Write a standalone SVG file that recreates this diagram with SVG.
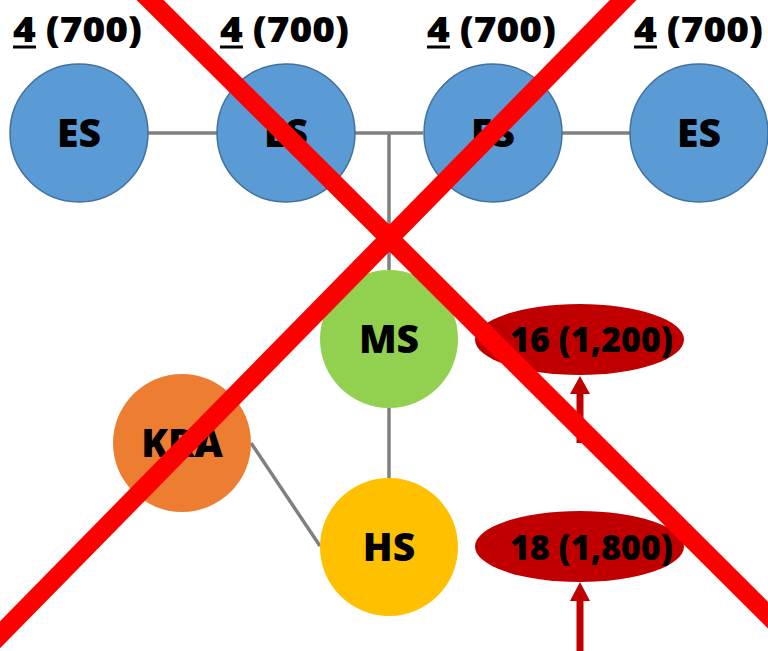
<svg xmlns="http://www.w3.org/2000/svg" width="768" height="651" viewBox="0 0 768 651">
<style>
.lbl{font-family:"Open Sans","Liberation Sans",sans-serif;font-weight:800;font-size:36px;fill:#000}
.nt{font-family:"Open Sans","Liberation Sans",sans-serif;font-weight:800;font-size:39px;fill:#000;text-anchor:middle}
.es{fill:#5B9BD5;stroke:#41719C;stroke-width:1.5}
.conn{stroke:#808080;stroke-width:3.5;fill:none}
.ul{stroke:#000;stroke-width:3}
.arr{stroke:#C00000;stroke-width:7}
.ah{fill:#C00000}
</style>
<rect width="768" height="651" fill="#fff"/>
<g id="connectors">
<line class="conn" x1="148" y1="133" x2="217" y2="133"/>
<line class="conn" x1="355" y1="133" x2="423" y2="133"/>
<line class="conn" x1="562" y1="133" x2="631" y2="133"/>
<line class="conn" x1="389" y1="133" x2="389" y2="270"/>
<line class="conn" x1="389" y1="408" x2="389" y2="478"/>
<line class="conn" x1="251" y1="443" x2="320" y2="546"/>
</g>
<g id="labels">
<text class="lbl" x="13" y="42" textLength="129" lengthAdjust="spacingAndGlyphs">4 (700)</text>
<line class="ul" x1="13" y1="47" x2="36" y2="47"/>
<text class="lbl" x="220" y="42" textLength="129" lengthAdjust="spacingAndGlyphs">4 (700)</text>
<line class="ul" x1="220" y1="47" x2="243" y2="47"/>
<text class="lbl" x="427" y="42" textLength="129" lengthAdjust="spacingAndGlyphs">4 (700)</text>
<line class="ul" x1="427" y1="47" x2="450" y2="47"/>
<text class="lbl" x="634" y="42" textLength="129" lengthAdjust="spacingAndGlyphs">4 (700)</text>
<line class="ul" x1="634" y1="47" x2="657" y2="47"/>
</g>
<g id="es1"><circle class="es" cx="79" cy="133" r="69"/><text class="nt" x="79" y="147">ES</text></g>
<g id="es2"><circle class="es" cx="286" cy="133" r="69"/><text class="nt" x="286" y="147">ES</text></g>
<g id="es3"><circle class="es" cx="493" cy="133" r="69"/><text class="nt" x="493" y="147">ES</text></g>
<g id="es4"><circle class="es" cx="699" cy="133" r="69"/><text class="nt" x="699" y="147">ES</text></g>
<g id="ms"><circle cx="389" cy="339" r="69" fill="#92D050"/><text class="nt" x="389" y="353">MS</text></g>
<g id="kra"><circle cx="182" cy="443" r="69" fill="#ED7D31"/><text class="nt" x="182" y="457">KRA</text></g>
<g id="hs"><circle cx="389" cy="547" r="69" fill="#FFC000"/><text class="nt" x="389" y="561">HS</text></g>
<g id="ms-size"><ellipse cx="579.5" cy="339.5" rx="104.5" ry="35.5" fill="#C00000"/><text class="lbl" x="510" y="352" textLength="163" lengthAdjust="spacingAndGlyphs">16 (1,200)</text></g>
<g id="hs-size"><ellipse cx="579.5" cy="546.5" rx="104.5" ry="35.5" fill="#C00000"/><text class="lbl" x="510" y="560" textLength="163" lengthAdjust="spacingAndGlyphs">18 (1,800)</text></g>
<g id="arrows">
<line class="arr" x1="580" y1="443" x2="580" y2="392"/>
<polygon class="ah" points="580,376 570,394 590,394"/>
<line class="arr" x1="580" y1="651" x2="580" y2="599"/>
<polygon class="ah" points="580,582 570,601 590,601"/>
</g>
<g id="cross" stroke="#FF0000" stroke-width="19">
<line x1="140" y1="-10" x2="778" y2="625"/>
<line x1="633" y1="-10" x2="-10" y2="645"/>
</g>
</svg>
